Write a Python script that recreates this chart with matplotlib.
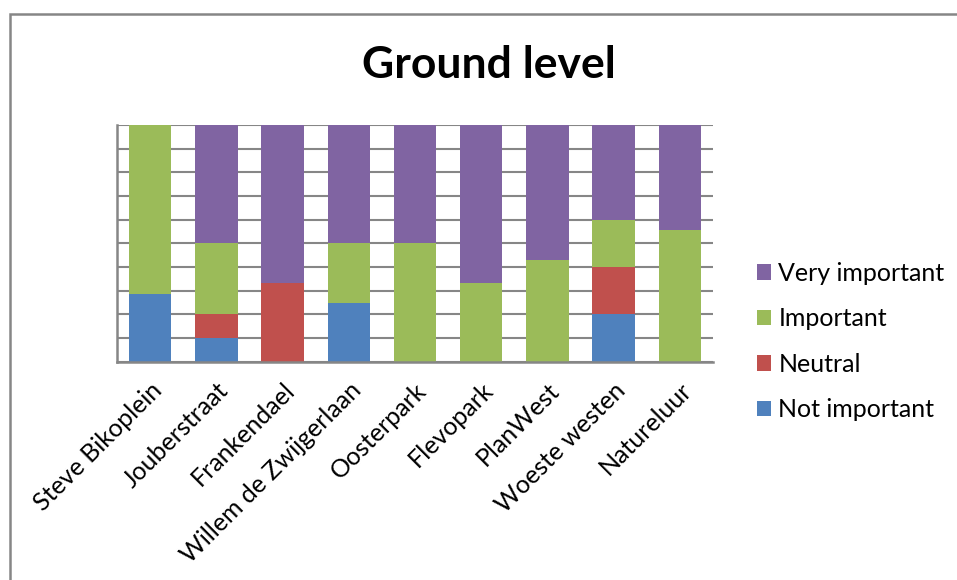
import matplotlib.pyplot as plt
from matplotlib.patches import Rectangle
import numpy as np

# Survey answers per location, in percent of respondents
locations = ["Steve Bikoplein", "Jouberstraat", "Frankendael", "Willem de Zwijgerlaan",
             "Oosterpark", "Flevopark", "PlanWest", "Woeste westen", "Natureluur"]
not_important = [28.6, 10, 0, 25, 0, 0, 0, 20, 0]
neutral = [0, 10, 33.3, 0, 0, 0, 0, 20, 0]
important = [71.4, 30, 0, 25, 50, 33.3, 42.9, 20, 55.6]
very_important = [0, 50, 66.7, 50, 50, 66.7, 57.1, 40, 44.4]

series = [("Not important", not_important, "#4f81bd"),
          ("Neutral", neutral, "#c0504d"),
          ("Important", important, "#9bbb59"),
          ("Very important", very_important, "#8064a2")]

plt.rcParams['font.family'] = ['Lato', 'DejaVu Sans']

fig = plt.figure(figsize=(9.57, 5.80), dpi=100)
ax = fig.add_axes([117 / 957, 1 - 361.7 / 580, 596 / 957, 236.7 / 580])

x = np.arange(len(locations))
bottom = np.zeros(len(locations))
for name, vals, color in series:
    ax.bar(x, vals, width=0.64, bottom=bottom, color=color, label=name, zorder=3)
    bottom += np.array(vals)

ax.set_xlim(-0.5, len(locations) - 0.5)
ax.set_ylim(0, 100)
ax.set_yticks(np.arange(0, 101, 10))
ax.set_yticklabels([])
ax.tick_params(axis='y', length=0)
ax.tick_params(axis='x', length=0, pad=12)
ax.grid(axis='y', color='#868686', linewidth=1.5, zorder=0)
for side in ['top', 'right']:
    ax.spines[side].set_visible(False)
for side in ['left', 'bottom']:
    ax.spines[side].set_color('#868686')
    ax.spines[side].set_linewidth(1.8)
    ax.spines[side].set_zorder(4)

ax.set_xticks(x)
ax.set_xticklabels(locations, rotation=45, ha='right', rotation_mode='anchor', fontsize=18)

fig.text(489 / 957, 1 - 65 / 580, "Ground level", ha='center', va='center',
         fontsize=32, fontweight='bold')

handles, labels = ax.get_legend_handles_labels()
ax.legend(handles[::-1], labels[::-1], loc='center left', bbox_to_anchor=(757 / 957, 1 - 341.5 / 580),
          bbox_transform=fig.transFigure, frameon=False, fontsize=18,
          handlelength=0.56, handleheight=0.56, handletextpad=0.3, labelspacing=0.9,
          borderaxespad=0, borderpad=0)

# chart frame
fig.patches.append(Rectangle((9.5 / 957, -0.1), 1.2, 1 + 0.1 - 14.5 / 580, transform=fig.transFigure,
                             fill=False, edgecolor='#868686', linewidth=1.8))

fig.savefig("out.png", dpi=100, facecolor='white')
